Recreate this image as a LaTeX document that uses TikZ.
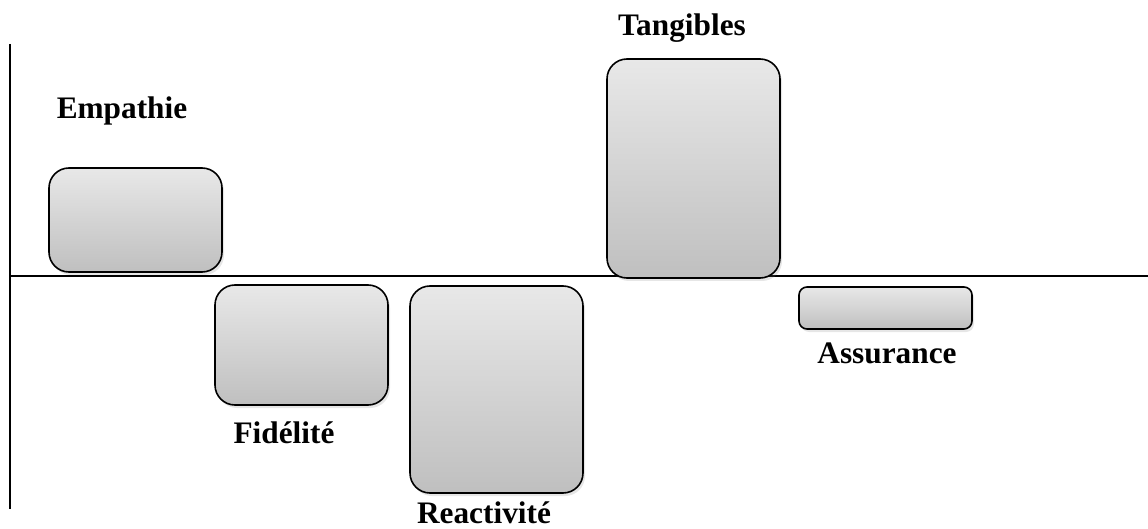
\documentclass[tikz,border=0pt]{standalone}
\usepackage{fontspec}
\setmainfont{Liberation Serif}
\usetikzlibrary{shadows}

\tikzset{
  dimbox/.style={draw=black, line width=1.6pt, rounded corners=20pt,
    top color=gray!18, bottom color=gray!50, anchor=north west,
    inner sep=0pt, outer sep=0pt, minimum width=173pt,
    drop shadow={opacity=0.2, shadow xshift=2pt, shadow yshift=-3pt}},
  dimlabel/.style={font=\bfseries\fontsize{31.3}{36}\selectfont, inner sep=0pt}
}

\begin{document}
\begin{tikzpicture}[x=1pt,y=-1pt]
  \useasboundingbox (0,0) rectangle (1148,529);
  % axes
  \coordinate (top) at (10,44);
  \coordinate (bottom) at (10,509);
  \coordinate (origin) at (10,276);
  \coordinate (right) at (1148,276);
  \draw[line width=1.4pt] (top) -- (bottom);
  \draw[line width=1.4pt] (origin) -- (right);
  % boxes
  \node[dimbox, minimum height=104pt] (emp) at (49,168) {};
  \node[dimbox, minimum height=120pt] (fid) at (215,285) {};
  \node[dimbox, minimum height=207pt] (rea) at (410,286) {};
  \node[dimbox, minimum height=219pt] (tan) at (607,59) {};
  \node[dimbox, minimum height=42pt, rounded corners=8pt] (ass) at (799,287) {};
  % labels
  \node[dimlabel] (empl) at (122,111) {Empathie};
  \node[dimlabel] (fidl) at (284,433) {Fidélité};
  \node[dimlabel] (real) at (484,513) {Reactivité};
  \node[dimlabel] (tanl) at (682,28) {Tangibles};
  \node[dimlabel] (assl) at (887,353) {Assurance};
\end{tikzpicture}
\end{document}
